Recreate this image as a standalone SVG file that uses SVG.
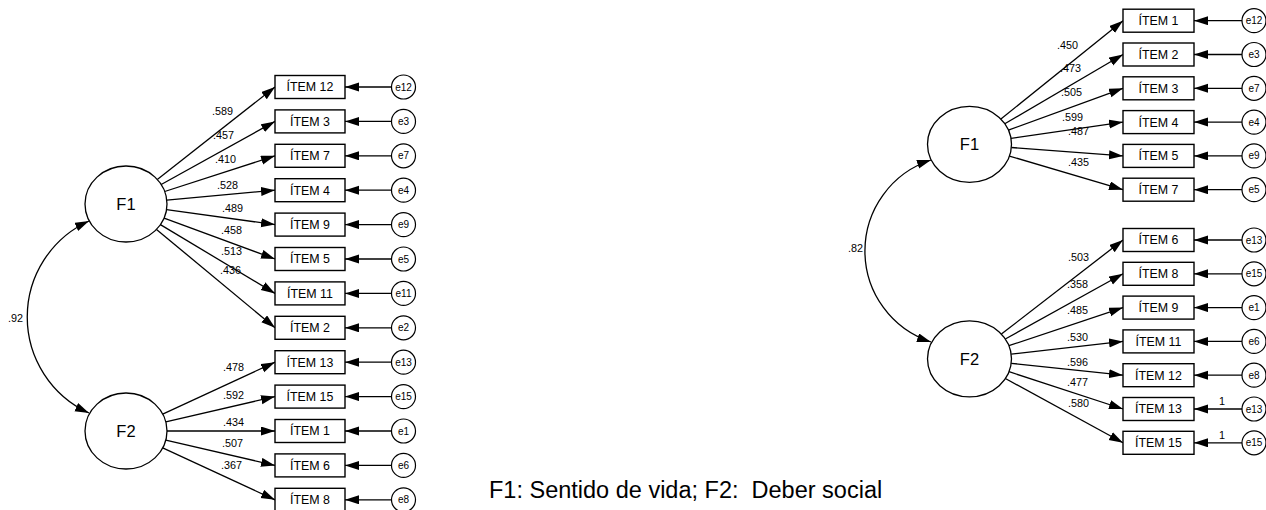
<svg xmlns="http://www.w3.org/2000/svg" width="1266" height="510" viewBox="0 0 1266 510">
<style>
.bx{fill:#fff;stroke:#000;stroke-width:1.4}
.lv{fill:#fff;stroke:#000;stroke-width:1.3}
.er{fill:#fff;stroke:#000;stroke-width:1.2}
.ln{fill:none;stroke:#000;stroke-width:1.3;marker-end:url(#ah)}
.cv{fill:none;stroke:#000;stroke-width:1.3;marker-start:url(#ahs);marker-end:url(#ah)}
.t{font-family:"Liberation Sans",Arial,sans-serif;fill:#000}
.it{font-size:12.4px;text-anchor:middle}
.fl{font-size:16.5px;text-anchor:middle}
.el{font-size:10px;text-anchor:middle}
.ld{font-size:10.8px}
</style>
<defs>
<marker id="ah" markerUnits="userSpaceOnUse" markerWidth="15" markerHeight="10" refX="14" refY="4.5" orient="auto">
<path d="M0,0 L14,4.5 L0,9 z" fill="#000"/>
</marker>
<marker id="ahs" markerUnits="userSpaceOnUse" markerWidth="15" markerHeight="10" refX="14" refY="4.5" orient="auto-start-reverse">
<path d="M0,0 L14,4.5 L0,9 z" fill="#000"/>
</marker>
</defs>
<g id="connectors">
<line class="ln" x1="157.3" y1="179.4" x2="275" y2="87"/>
<line class="ln" x1="161.2" y1="184.5" x2="275" y2="121.4"/>
<line class="ln" x1="164.7" y1="191.5" x2="275" y2="155.8"/>
<line class="ln" x1="166.8" y1="200.2" x2="275" y2="190.2"/>
<line class="ln" x1="166.5" y1="209.6" x2="275" y2="224.6"/>
<line class="ln" x1="164.1" y1="218.1" x2="275" y2="259"/>
<line class="ln" x1="160.4" y1="224.6" x2="275" y2="293.4"/>
<line class="ln" x1="156.5" y1="229.4" x2="275" y2="327.8"/>
<line class="ln" x1="162.7" y1="414.1" x2="275" y2="362.2"/>
<line class="ln" x1="165.8" y1="421.8" x2="275" y2="396.6"/>
<line class="ln" x1="167" y1="431" x2="275" y2="431"/>
<line class="ln" x1="165.8" y1="440.2" x2="275" y2="465.4"/>
<line class="ln" x1="162.7" y1="447.9" x2="275" y2="499.8"/>
<line class="ln" x1="391.5" y1="87" x2="345" y2="87"/>
<line class="ln" x1="391.5" y1="121.4" x2="345" y2="121.4"/>
<line class="ln" x1="391.5" y1="155.8" x2="345" y2="155.8"/>
<line class="ln" x1="391.5" y1="190.2" x2="345" y2="190.2"/>
<line class="ln" x1="391.5" y1="224.6" x2="345" y2="224.6"/>
<line class="ln" x1="391.5" y1="259" x2="345" y2="259"/>
<line class="ln" x1="391.5" y1="293.4" x2="345" y2="293.4"/>
<line class="ln" x1="391.5" y1="327.8" x2="345" y2="327.8"/>
<line class="ln" x1="391.5" y1="362.2" x2="345" y2="362.2"/>
<line class="ln" x1="391.5" y1="396.6" x2="345" y2="396.6"/>
<line class="ln" x1="391.5" y1="431" x2="345" y2="431"/>
<line class="ln" x1="391.5" y1="465.4" x2="345" y2="465.4"/>
<line class="ln" x1="391.5" y1="499.8" x2="345" y2="499.8"/>
<path class="cv" d="M89,221 A105.5,105.5 0 0 0 89,413"/>
<line class="ln" x1="1000.9" y1="119" x2="1123" y2="20.7"/>
<line class="ln" x1="1004.8" y1="123.7" x2="1123" y2="54.5"/>
<line class="ln" x1="1008.4" y1="130.1" x2="1123" y2="88.3"/>
<line class="ln" x1="1011" y1="138.3" x2="1123" y2="122.1"/>
<line class="ln" x1="1011.3" y1="147.5" x2="1123" y2="155.9"/>
<line class="ln" x1="1009.4" y1="156.1" x2="1123" y2="189.7"/>
<line class="ln" x1="1001.4" y1="334.1" x2="1123" y2="240"/>
<line class="ln" x1="1005.3" y1="339" x2="1123" y2="273.8"/>
<line class="ln" x1="1008.9" y1="345.7" x2="1123" y2="307.6"/>
<line class="ln" x1="1011.2" y1="354.1" x2="1123" y2="341.4"/>
<line class="ln" x1="1011.2" y1="363.3" x2="1123" y2="375.2"/>
<line class="ln" x1="1009" y1="371.7" x2="1123" y2="409"/>
<line class="ln" x1="1005.4" y1="378.5" x2="1123" y2="442.8"/>
<line class="ln" x1="1242" y1="20.7" x2="1194" y2="20.7"/>
<line class="ln" x1="1242" y1="54.5" x2="1194" y2="54.5"/>
<line class="ln" x1="1242" y1="88.3" x2="1194" y2="88.3"/>
<line class="ln" x1="1242" y1="122.1" x2="1194" y2="122.1"/>
<line class="ln" x1="1242" y1="155.9" x2="1194" y2="155.9"/>
<line class="ln" x1="1242" y1="189.7" x2="1194" y2="189.7"/>
<line class="ln" x1="1242" y1="240" x2="1194" y2="240"/>
<line class="ln" x1="1242" y1="273.8" x2="1194" y2="273.8"/>
<line class="ln" x1="1242" y1="307.6" x2="1194" y2="307.6"/>
<line class="ln" x1="1242" y1="341.4" x2="1194" y2="341.4"/>
<line class="ln" x1="1242" y1="375.2" x2="1194" y2="375.2"/>
<line class="ln" x1="1242" y1="409" x2="1194" y2="409"/>
<line class="ln" x1="1242" y1="442.8" x2="1194" y2="442.8"/>
<path class="cv" d="M931,160 A95.7,95.7 0 0 0 931,342"/>
<g class="t ld">
<text x="212" y="114.5">.589</text>
<text x="213" y="139">.457</text>
<text x="215" y="163">.410</text>
<text x="217" y="189">.528</text>
<text x="222" y="211.5">.489</text>
<text x="221" y="233.5">.458</text>
<text x="221" y="254.5">.513</text>
<text x="220" y="274">.436</text>
<text x="223" y="370.5">.478</text>
<text x="223" y="399">.592</text>
<text x="223" y="426">.434</text>
<text x="222" y="447">.507</text>
<text x="221" y="469">.367</text>
<text x="8" y="322">.92</text>
<text x="1057" y="49">.450</text>
<text x="1060" y="72">.473</text>
<text x="1061" y="95.5">.505</text>
<text x="1062" y="121">.599</text>
<text x="1068" y="134.5">.487</text>
<text x="1068" y="165.5">.435</text>
<text x="1068" y="260.5">.503</text>
<text x="1067" y="288">.358</text>
<text x="1067" y="314">.485</text>
<text x="1067" y="340.5">.530</text>
<text x="1067" y="365.5">.596</text>
<text x="1067" y="385.5">.477</text>
<text x="1068" y="407">.580</text>
<text x="848" y="251.5">.82</text>
<text x="1219" y="404.5">1</text>
<text x="1219" y="438.5">1</text>
</g>
</g>
<g id="L_F1"><ellipse class="lv" cx="126" cy="204" rx="41" ry="38"/><text class="t fl" x="126" y="210">F1</text></g>
<g id="L_F2"><ellipse class="lv" cx="126" cy="431" rx="41" ry="38"/><text class="t fl" x="126" y="437">F2</text></g>
<g id="L_item12"><rect class="bx" x="275" y="75.5" width="70" height="23"/><text class="t it" x="310" y="91.4">ÍTEM 12</text></g>
<g id="L_item3"><rect class="bx" x="275" y="109.9" width="70" height="23"/><text class="t it" x="310" y="125.8">ÍTEM 3</text></g>
<g id="L_item7"><rect class="bx" x="275" y="144.3" width="70" height="23"/><text class="t it" x="310" y="160.2">ÍTEM 7</text></g>
<g id="L_item4"><rect class="bx" x="275" y="178.7" width="70" height="23"/><text class="t it" x="310" y="194.6">ÍTEM 4</text></g>
<g id="L_item9"><rect class="bx" x="275" y="213.1" width="70" height="23"/><text class="t it" x="310" y="229">ÍTEM 9</text></g>
<g id="L_item5"><rect class="bx" x="275" y="247.5" width="70" height="23"/><text class="t it" x="310" y="263.4">ÍTEM 5</text></g>
<g id="L_item11"><rect class="bx" x="275" y="281.9" width="70" height="23"/><text class="t it" x="310" y="297.8">ÍTEM 11</text></g>
<g id="L_item2"><rect class="bx" x="275" y="316.3" width="70" height="23"/><text class="t it" x="310" y="332.2">ÍTEM 2</text></g>
<g id="L_item13"><rect class="bx" x="275" y="350.7" width="70" height="23"/><text class="t it" x="310" y="366.6">ÍTEM 13</text></g>
<g id="L_item15"><rect class="bx" x="275" y="385.1" width="70" height="23"/><text class="t it" x="310" y="401">ÍTEM 15</text></g>
<g id="L_item1"><rect class="bx" x="275" y="419.5" width="70" height="23"/><text class="t it" x="310" y="435.4">ÍTEM 1</text></g>
<g id="L_item6"><rect class="bx" x="275" y="453.9" width="70" height="23"/><text class="t it" x="310" y="469.8">ÍTEM 6</text></g>
<g id="L_item8"><rect class="bx" x="275" y="488.3" width="70" height="23"/><text class="t it" x="310" y="504.2">ÍTEM 8</text></g>
<g id="L_e12"><circle class="er" cx="403.5" cy="87" r="12"/><text class="t el" x="403.5" y="90.5">e12</text></g>
<g id="L_e3"><circle class="er" cx="403.5" cy="121.4" r="12"/><text class="t el" x="403.5" y="124.9">e3</text></g>
<g id="L_e7"><circle class="er" cx="403.5" cy="155.8" r="12"/><text class="t el" x="403.5" y="159.3">e7</text></g>
<g id="L_e4"><circle class="er" cx="403.5" cy="190.2" r="12"/><text class="t el" x="403.5" y="193.7">e4</text></g>
<g id="L_e9"><circle class="er" cx="403.5" cy="224.6" r="12"/><text class="t el" x="403.5" y="228.1">e9</text></g>
<g id="L_e5"><circle class="er" cx="403.5" cy="259" r="12"/><text class="t el" x="403.5" y="262.5">e5</text></g>
<g id="L_e11"><circle class="er" cx="403.5" cy="293.4" r="12"/><text class="t el" x="403.5" y="296.9">e11</text></g>
<g id="L_e2"><circle class="er" cx="403.5" cy="327.8" r="12"/><text class="t el" x="403.5" y="331.3">e2</text></g>
<g id="L_e13"><circle class="er" cx="403.5" cy="362.2" r="12"/><text class="t el" x="403.5" y="365.7">e13</text></g>
<g id="L_e15"><circle class="er" cx="403.5" cy="396.6" r="12"/><text class="t el" x="403.5" y="400.1">e15</text></g>
<g id="L_e1"><circle class="er" cx="403.5" cy="431" r="12"/><text class="t el" x="403.5" y="434.5">e1</text></g>
<g id="L_e6"><circle class="er" cx="403.5" cy="465.4" r="12"/><text class="t el" x="403.5" y="468.9">e6</text></g>
<g id="L_e8"><circle class="er" cx="403.5" cy="499.8" r="12"/><text class="t el" x="403.5" y="503.3">e8</text></g>
<g id="R_F1"><ellipse class="lv" cx="969.5" cy="144.3" rx="42" ry="38"/><text class="t fl" x="969.5" y="150.3">F1</text></g>
<g id="R_F2"><ellipse class="lv" cx="969.5" cy="358.8" rx="42" ry="38"/><text class="t fl" x="969.5" y="364.8">F2</text></g>
<g id="R_item1"><rect class="bx" x="1123" y="9.2" width="71" height="23"/><text class="t it" x="1158.5" y="25.1">ÍTEM 1</text></g>
<g id="R_item2"><rect class="bx" x="1123" y="43" width="71" height="23"/><text class="t it" x="1158.5" y="58.9">ÍTEM 2</text></g>
<g id="R_item3"><rect class="bx" x="1123" y="76.8" width="71" height="23"/><text class="t it" x="1158.5" y="92.7">ÍTEM 3</text></g>
<g id="R_item4"><rect class="bx" x="1123" y="110.6" width="71" height="23"/><text class="t it" x="1158.5" y="126.5">ÍTEM 4</text></g>
<g id="R_item5"><rect class="bx" x="1123" y="144.4" width="71" height="23"/><text class="t it" x="1158.5" y="160.3">ÍTEM 5</text></g>
<g id="R_item7"><rect class="bx" x="1123" y="178.2" width="71" height="23"/><text class="t it" x="1158.5" y="194.1">ÍTEM 7</text></g>
<g id="R_item6"><rect class="bx" x="1123" y="228.5" width="71" height="23"/><text class="t it" x="1158.5" y="244.4">ÍTEM 6</text></g>
<g id="R_item8"><rect class="bx" x="1123" y="262.3" width="71" height="23"/><text class="t it" x="1158.5" y="278.2">ÍTEM 8</text></g>
<g id="R_item9"><rect class="bx" x="1123" y="296.1" width="71" height="23"/><text class="t it" x="1158.5" y="312">ÍTEM 9</text></g>
<g id="R_item11"><rect class="bx" x="1123" y="329.9" width="71" height="23"/><text class="t it" x="1158.5" y="345.8">ÍTEM 11</text></g>
<g id="R_item12"><rect class="bx" x="1123" y="363.7" width="71" height="23"/><text class="t it" x="1158.5" y="379.6">ÍTEM 12</text></g>
<g id="R_item13"><rect class="bx" x="1123" y="397.5" width="71" height="23"/><text class="t it" x="1158.5" y="413.4">ÍTEM 13</text></g>
<g id="R_item15"><rect class="bx" x="1123" y="431.3" width="71" height="23"/><text class="t it" x="1158.5" y="447.2">ÍTEM 15</text></g>
<g id="R_e12"><circle class="er" cx="1254" cy="20.7" r="12"/><text class="t el" x="1254" y="24.2">e12</text></g>
<g id="R_e3"><circle class="er" cx="1254" cy="54.5" r="12"/><text class="t el" x="1254" y="58">e3</text></g>
<g id="R_e7"><circle class="er" cx="1254" cy="88.3" r="12"/><text class="t el" x="1254" y="91.8">e7</text></g>
<g id="R_e4"><circle class="er" cx="1254" cy="122.1" r="12"/><text class="t el" x="1254" y="125.6">e4</text></g>
<g id="R_e9"><circle class="er" cx="1254" cy="155.9" r="12"/><text class="t el" x="1254" y="159.4">e9</text></g>
<g id="R_e5"><circle class="er" cx="1254" cy="189.7" r="12"/><text class="t el" x="1254" y="193.2">e5</text></g>
<g id="R_e13a"><circle class="er" cx="1254" cy="240" r="12"/><text class="t el" x="1254" y="243.5">e13</text></g>
<g id="R_e15a"><circle class="er" cx="1254" cy="273.8" r="12"/><text class="t el" x="1254" y="277.3">e15</text></g>
<g id="R_e1"><circle class="er" cx="1254" cy="307.6" r="12"/><text class="t el" x="1254" y="311.1">e1</text></g>
<g id="R_e6"><circle class="er" cx="1254" cy="341.4" r="12"/><text class="t el" x="1254" y="344.9">e6</text></g>
<g id="R_e8"><circle class="er" cx="1254" cy="375.2" r="12"/><text class="t el" x="1254" y="378.7">e8</text></g>
<g id="R_e13b"><circle class="er" cx="1254" cy="409" r="12"/><text class="t el" x="1254" y="412.5">e13</text></g>
<g id="R_e15b"><circle class="er" cx="1254" cy="442.8" r="12"/><text class="t el" x="1254" y="446.3">e15</text></g>
<text class="t" x="489" y="498" font-size="23.5" xml:space="preserve" style="white-space:pre">F1: Sentido de vida; F2:  Deber social</text>
</svg>
